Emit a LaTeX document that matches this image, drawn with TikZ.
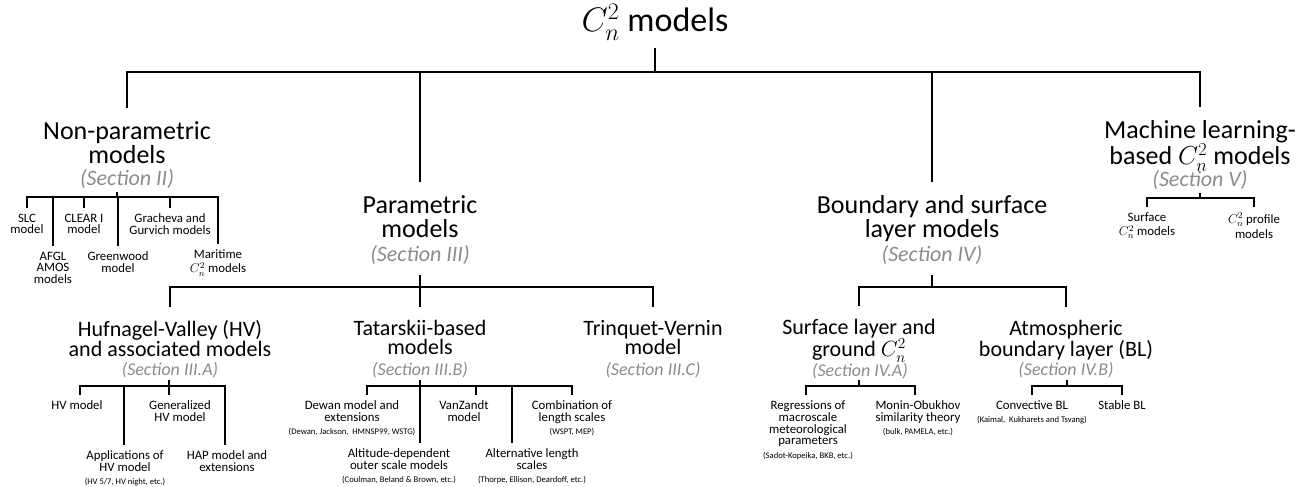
\RequirePackage{fix-cm}
\documentclass[tikz,border=0pt]{standalone}
\usepackage[no-math]{fontspec}
\setmainfont{Carlito}
\definecolor{secgray}{RGB}{140,140,140}
\tikzset{
  thickline/.style={line width=2.9pt},
  thinline/.style={line width=1.7pt},
  titlefont/.style={font=\fontsize{34}{36}\selectfont},
  lvltwo/.style={align=center, anchor=north, inner xsep=0pt, inner ysep=13pt, font=\fontsize{26}{24}\selectfont},
  sectwo/.style={text=secgray, font=\fontsize{22}{22}\selectfont\itshape, inner sep=0pt},
  lvlthree/.style={align=center, anchor=north, inner xsep=0pt, inner ysep=13pt, font=\fontsize{22}{19}\selectfont},
  secthree/.style={text=secgray, font=\fontsize{18}{18}\selectfont\itshape, inner sep=0pt},
  leaf/.style={align=center, anchor=north, inner xsep=0pt, inner ysep=5.5pt, font=\fontsize{12.8}{11.8}\selectfont},
}
\newcommand{\tinytxt}[1]{{\fontsize{8.6}{9}\selectfont #1}}
\begin{document}
\begin{tikzpicture}[x=1pt,y=-1pt]
\useasboundingbox (0,0) rectangle (1312,487);

% root
\node[titlefont] (root) at (655,22) {$C_n^2$ models};
\coordinate (root-out) at (655,48);
\coordinate (root-bus) at (655,72);

% level 2
\node[lvltwo] (np) at (127,108) {Non-parametric\\models};
\node[sectwo] (npsec) at (127,179) {(Section II)};
\node[lvltwo] (par) at (420,182) {Parametric\\models};
\node[sectwo] (parsec) at (420,255) {(Section III)};
\node[lvltwo] (bsl) at (932,182) {Boundary and surface\\layer models};
\node[sectwo] (bslsec) at (932,255) {(Section IV)};
\node[lvltwo] (ml) at (1200,107) {Machine learning-\\based $C_n^2$ models};
\node[sectwo] (mlsec) at (1200,180) {(Section V)};

\draw[thickline] (root-out) -- (root-bus);
\foreach \c in {np,par,bsl,ml} \draw[thickline] (root-bus) -| (\c.north);

% non-parametric leaves
\coordinate (np-out) at (117,192);
\coordinate (np-bus) at (117,197);
\node[leaf] (slc) at (27,208) {SLC\\model};
\node[leaf] (afgl) at (53,246) {AFGL\\AMOS\\models};
\node[leaf] (clear) at (84,208) {CLEAR I\\model};
\node[leaf] (green) at (118,246) {Greenwood\\model};
\node[leaf] (grach) at (170,208) {Gracheva and\\Gurvich models};
\node[leaf] (marit) at (218,244) {Maritime\\[2.5pt]$C_n^2$ models};
\draw[thinline] (np-out) -- (np-bus);
\foreach \c in {slc,afgl,clear,green,grach,marit} \draw[thinline] (np-bus) -| (\c.north);

% machine learning leaves
\coordinate (ml-out) at (1200,193);
\coordinate (ml-bus) at (1200,198);
\node[leaf] (surf) at (1147,207) {Surface\\[2.5pt]$C_n^2$ models};
\node[leaf] (prof) at (1254,207) {$C_n^2$ profile\\[2.5pt]models};
\draw[thinline] (ml-out) -- (ml-bus);
\foreach \c in {surf,prof} \draw[thinline] (ml-bus) -| (\c.north);

% parametric children
\coordinate (par-out) at (420,275);
\coordinate (par-bus) at (420,287);
\node[lvlthree] (hv) at (170,307) {Hufnagel-Valley (HV)\\and associated models};
\node[secthree] (hvsec) at (170,370) {(Section III.A)};
\node[lvlthree] (tat) at (420,307) {Tatarskii-based\\models};
\node[secthree] (tatsec) at (420,370) {(Section III.B)};
\node[lvlthree] (tv) at (653,307) {Trinquet-Vernin\\model};
\node[secthree] (tvsec) at (653,370) {(Section III.C)};
\draw[thickline] (par-out) -- (par-bus);
\foreach \c in {hv,tat,tv} \draw[thickline] (par-bus) -| (\c.north);

% boundary children
\coordinate (bsl-out) at (932,275);
\coordinate (bsl-bus) at (932,287);
\node[lvlthree] (sl) at (859,306) {Surface layer and\\ground $C_n^2$};
\node[secthree] (slsec) at (860,371) {(Section IV.A)};
\node[lvlthree] (abl) at (1066,307) {Atmospheric\\boundary layer (BL)};
\node[secthree] (ablsec) at (1066,370) {(Section IV.B)};
\draw[thickline] (bsl-out) -- (bsl-bus);
\foreach \c in {sl,abl} \draw[thickline] (bsl-bus) -| (\c.north);

% HV leaves
\coordinate (hv-out) at (169,380);
\coordinate (hv-bus) at (169,386);
\node[leaf] (hvm) at (77,395) {HV model};
\node[leaf] (app) at (125,445) {Applications of\\HV model\\[1.5pt]\tinytxt{(HV 5/7, HV night, etc.)}};
\node[leaf] (gen) at (180,395) {Generalized\\HV model};
\node[leaf] (hap) at (227,445) {HAP model and\\extensions};
\draw[thinline] (hv-out) -- (hv-bus);
\draw[thinline] (hv-bus) -| ([xshift=3pt]hvm.north);
\draw[thinline] (hv-bus) -| ([xshift=-1pt]app.north);
\draw[thinline] (hv-bus) -| ([xshift=-11pt]gen.north);
\draw[thinline] (hv-bus) -| ([xshift=-2pt]hap.north);

% Tatarskii leaves
\coordinate (tat-out) at (420,380);
\coordinate (tat-bus) at (420,386);
\node[leaf] (dewan) at (352,395) {Dewan model and\\extensions\\[1.5pt]\tinytxt{(Dewan, Jackson,\ \ HMNSP99, WSTG)}};
\node[leaf] (altd) at (399,443) {Altitude-dependent\\outer scale models\\[1.5pt]\tinytxt{(Coulman, Beland \& Brown, etc.)}};
\node[leaf] (vanz) at (464,395) {VanZandt\\model};
\node[leaf] (altl) at (532,443) {Alternative length\\scales\\[1.5pt]\tinytxt{(Thorpe, Ellison, Deardoff, etc.)}};
\node[leaf] (comb) at (572,395) {Combination of\\length scales\\[1.5pt]\tinytxt{(WSPT, MEP)}};
\draw[thinline] (tat-out) -- (tat-bus);
\draw[thinline] (tat-bus) -| ([xshift=15pt]dewan.north);
\draw[thinline] (tat-bus) -| ([xshift=21pt]altd.north);
\draw[thinline] (tat-bus) -| ([xshift=12pt]vanz.north);
\draw[thinline] (tat-bus) -| ([xshift=-20pt]altl.north);
\draw[thinline] (tat-bus) -| (comb.north);

% surface layer leaves
\coordinate (sl-out) at (859,380);
\coordinate (sl-bus) at (859,386);
\node[leaf] (regr) at (808,395) {Regressions of\\macroscale\\meteorological\\parameters\\[1.5pt]\tinytxt{(Sadot-Kopeika, BKB, etc.)}};
\node[leaf] (monin) at (918,395) {Monin-Obukhov\\similarity theory\\[1.5pt]\tinytxt{(bulk, PAMELA, etc.)}};
\draw[thinline] (sl-out) -- (sl-bus);
\draw[thinline] (sl-bus) -| ([xshift=-2pt]regr.north);
\draw[thinline] (sl-bus) -| ([xshift=-3pt]monin.north);

% ABL leaves
\coordinate (abl-out) at (1067,380);
\coordinate (abl-bus) at (1067,386);
\node[leaf] (conv) at (1032,395) {Convective BL\\[1.5pt]\tinytxt{(Kaimal,\ \ Kukharets and Tsvang)}};
\node[leaf] (stab) at (1122,395) {Stable BL};
\draw[thinline] (abl-out) -- (abl-bus);
\foreach \c in {conv,stab} \draw[thinline] (abl-bus) -| (\c.north);
\end{tikzpicture}
\end{document}
